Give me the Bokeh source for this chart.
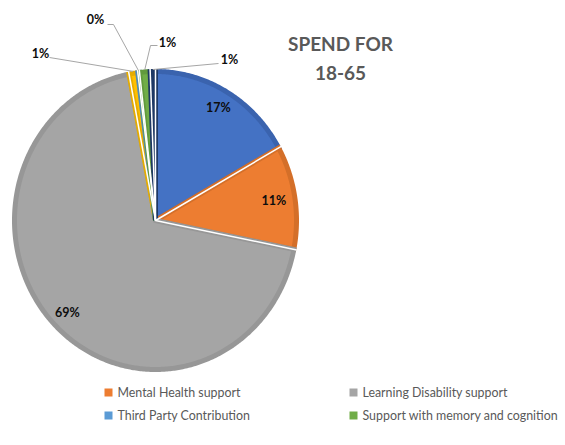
import math
from bokeh.plotting import figure
from bokeh.models import Range1d
from bokeh.core.properties import value
from bokeh.embed import file_html
from bokeh.resources import INLINE

# ---- data ----
categories = ["Physical support", "Mental Health support", "Learning Disability support",
              "Sensory support", "Third Party Contribution",
              "Support with memory and cognition", "Social support"]
shares = [16.9, 11.2, 68.9, 1.0, 0.2, 1.2, 0.6]
legend_items = ["Mental Health support", "Learning Disability support",
                "Third Party Contribution", "Support with memory and cognition"]
title_lines = ["SPEND FOR", "18-65"]

# ---- style ----
fill_colors = ["#4472C4", "#ED7D31", "#A5A5A5", "#FFC000", "#5B9BD5", "#70AD47", "#264478"]
edge_colors = ["#3A63AE", "#D46F29", "#979797", "#E5AC00", "#4F8AC0", "#619A3D", "#1E3864"]
legend_colors = {c: f for c, f in zip(categories, fill_colors)}
FONT = "Lato"
W, H = 565, 445

def X(px):
    return px

def Y(py):
    return H - py

p = figure(width=W, height=H, output_backend="svg", toolbar_location=None,
           x_range=Range1d(0, W), y_range=Range1d(0, H), min_border=0)
p.axis.visible = False
p.grid.visible = False
p.outline_line_color = None

cx, cy = X(155), Y(220)
RX, RY = 141, 149
total = sum(shares)
cum = [0.0]
for s in shares:
    cum.append(cum[-1] + s)
starts = [math.pi / 2 - 2 * math.pi * c / total for c in cum[:-1]]
ends = [math.pi / 2 - 2 * math.pi * c / total for c in cum[1:]]
mids = [(a + b) / 2 for a, b in zip(starts, ends)]

def pt(a, f=1.0, pad=0.0):
    return cx + (f * RX + pad) * math.cos(a), cy + (f * RY + pad) * math.sin(a)

xs_all, ys_all = [], []
for a0, a1 in zip(starts, ends):
    n = max(4, int(abs(a1 - a0) / 0.01))
    xs, ys = [cx], [cy]
    for k in range(n + 1):
        a = a0 + (a1 - a0) * k / n
        x, y = pt(a)
        xs.append(x)
        ys.append(y)
    xs_all.append(xs)
    ys_all.append(ys)
p.patches(xs_all, ys_all, fill_color=fill_colors, line_color=edge_colors, line_width=5,
          line_join="miter")
# white separators between slices
p.segment(x0=[cx] * len(starts), y0=[cy] * len(starts),
          x1=[pt(a, pad=3)[0] for a in starts], y1=[pt(a, pad=3)[1] for a in starts],
          line_color="white", line_width=1.5)

labels = [f"{round(s)}%" for s in shares]
LABEL_COLOR = "#0d0d0d"
# big slices: inside labels
inside_rf = {0: 0.88, 1: 0.85, 2: 0.88}
for i, rf in inside_rf.items():
    lx, ly = pt(mids[i], rf)
    p.text(x=[lx], y=[ly], text=[labels[i]], text_font=value(FONT), text_font_style="bold",
           text_font_size="12.5px", text_color=LABEL_COLOR, text_align="center",
           text_baseline="middle")

# small slices: outside labels with leader lines (label positions in page px)
outside_pos = {3: (40, 53), 4: (95, 19), 5: (167, 42), 6: (229, 59)}
leader_start = {3: (49, 57), 4: (107, 24), 5: (157, 45), 6: (218, 63)}
leader_elbow = {3: None, 4: (113, 24), 5: (150, 45), 6: None}
for i, (lx, ly) in outside_pos.items():
    ex, ey = pt(mids[i], pad=2)
    sx, sy = leader_start[i]
    xs, ys = [X(sx)], [Y(sy)]
    if leader_elbow[i]:
        xs.append(X(leader_elbow[i][0]))
        ys.append(Y(leader_elbow[i][1]))
    xs.append(ex)
    ys.append(ey)
    p.line(xs, ys, line_color="#A6A6A6", line_width=1)
    p.text(x=[X(lx)], y=[Y(ly)], text=[labels[i]], text_font=value(FONT),
           text_font_style="bold", text_font_size="12.5px", text_color=LABEL_COLOR,
           text_align="center", text_baseline="middle")

# title
for k, t in enumerate(title_lines):
    p.text(x=[X(340)], y=[Y(43 + 29 * k)], text=[t], text_font=value(FONT),
           text_font_style="bold", text_font_size="19px", text_color="#595959",
           text_align="center", text_baseline="middle")

# legend
leg_x = [104, 349, 104, 349]
leg_y = [392, 392, 415, 415]
for name, lx, ly in zip(legend_items, leg_x, leg_y):
    p.rect(x=[X(lx + 4)], y=[Y(ly)], width=8, height=8, fill_color=legend_colors[name],
           line_color=None)
    p.text(x=[X(lx + 13)], y=[Y(ly)], text=[name], text_font=value(FONT),
           text_font_size="12.4px", text_color="#595959", text_align="left",
           text_baseline="middle")

open("out.html", "w").write(file_html(p, INLINE))
